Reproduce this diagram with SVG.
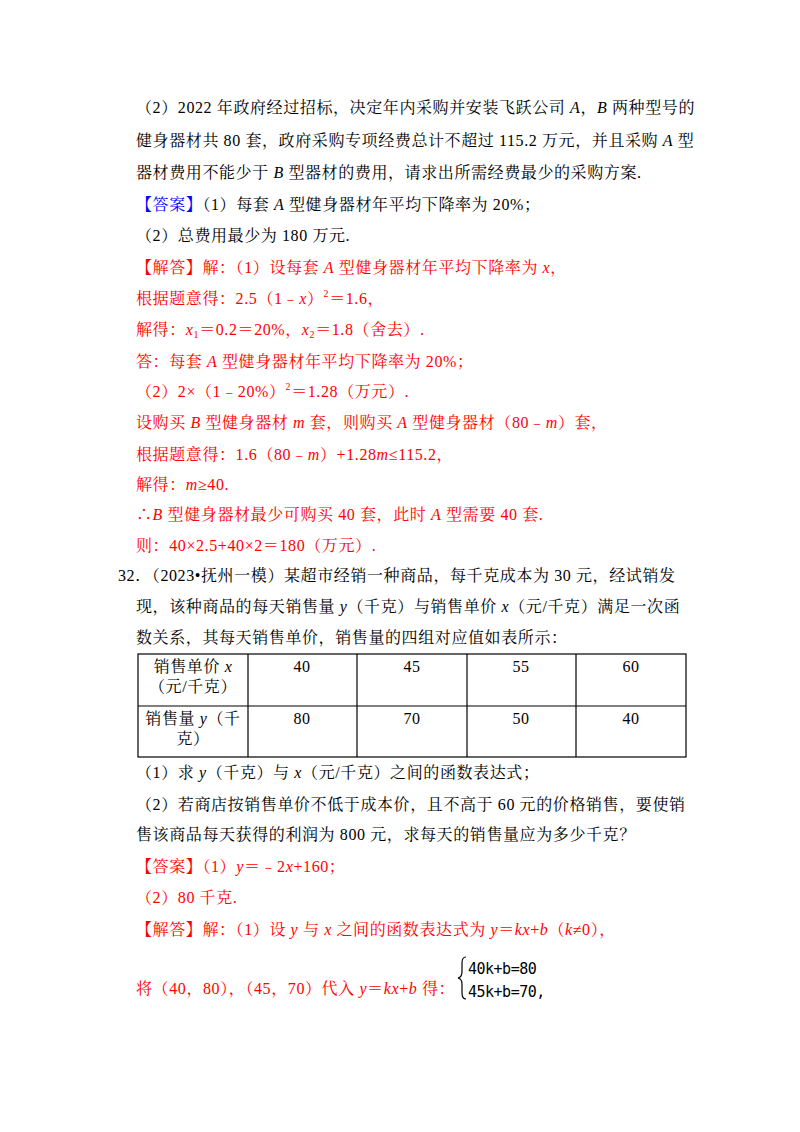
<svg xmlns="http://www.w3.org/2000/svg" width="800" height="1132" viewBox="0 0 800 1132">
<style>
text{font-family:"Liberation Serif","Noto Serif CJK SC","Noto Sans CJK SC",serif;font-size:16px;fill:#000;letter-spacing:0.6px}
.r{fill:#ff0000}.b{fill:#0000ff}.i{font-style:italic}
.s{font-size:10px}
.m{font-family:"DejaVu Sans Mono","Liberation Mono",monospace;font-size:15px;letter-spacing:-0.5px}
line{stroke:#000;stroke-width:1.2}
</style>
<rect width="800" height="1132" fill="#fff"/>
<g id="text1">
<text x="136" y="113">（2）2022 年政府经过招标，决定年内采购并安装飞跃公司 <tspan class="i">A</tspan>，<tspan class="i">B</tspan> 两种型号的</text>
<text x="136" y="146">健身器材共 80 套，政府采购专项经费总计不超过 115.2 万元，并且采购 <tspan class="i">A</tspan> 型</text>
<text x="136" y="178">器材费用不能少于 <tspan class="i">B</tspan> 型器材的费用，请求出所需经费最少的采购方案.</text>
<text x="136" y="210"><tspan class="b">【答案】</tspan>（1）每套 <tspan class="i">A</tspan> 型健身器材年平均下降率为 20%；</text>
<text x="136" y="241">（2）总费用最少为 180 万元.</text>
<text x="136" y="273" class="r">【解答】解：（1）设每套 <tspan class="i">A</tspan> 型健身器材年平均下降率为 <tspan class="i">x</tspan>，</text>
<text x="136" y="304" class="r">根据题意得：2.5（1﹣<tspan class="i">x</tspan>）<tspan class="s" dy="-7">2</tspan><tspan dy="7">＝1.6，</tspan></text>
<text x="136" y="335" class="r">解得：<tspan class="i">x</tspan><tspan class="s" dy="3">1</tspan><tspan dy="-3">＝0.2＝20%，</tspan><tspan class="i">x</tspan><tspan class="s" dy="3">2</tspan><tspan dy="-3">＝1.8（舍去）.</tspan></text>
<text x="136" y="367" class="r">答：每套 <tspan class="i">A</tspan> 型健身器材年平均下降率为 20%；</text>
<text x="136" y="397" class="r">（2）2×（1﹣20%）<tspan class="s" dy="-7">2</tspan><tspan dy="7">＝1.28（万元）.</tspan></text>
<text x="136" y="428" class="r">设购买 <tspan class="i">B</tspan> 型健身器材 <tspan class="i">m</tspan> 套，则购买 <tspan class="i">A</tspan> 型健身器材（80﹣<tspan class="i">m</tspan>）套，</text>
<text x="136" y="460" class="r">根据题意得：1.6（80﹣<tspan class="i">m</tspan>）+1.28<tspan class="i">m</tspan>≤115.2，</text>
<text x="136" y="490" class="r">解得：<tspan class="i">m</tspan>≥40.</text>
<text x="136" y="520" class="r">∴<tspan class="i">B</tspan> 型健身器材最少可购买 40 套，此时 <tspan class="i">A</tspan> 型需要 40 套.</text>
<text x="136" y="551" class="r">则：40×2.5+40×2＝180（万元）.</text>
<text x="118" y="581">32．（2023•抚州一模）某超市经销一种商品，每千克成本为 30 元，经试销发</text>
<text x="136" y="612">现，该种商品的每天销售量 <tspan class="i">y</tspan>（千克）与销售单价 <tspan class="i">x</tspan>（元/千克）满足一次函</text>
<text x="136" y="643">数关系，其每天销售单价，销售量的四组对应值如表所示：</text>
</g>
<g id="table">
<rect x="138" y="654" width="548" height="103" fill="none" stroke="#000" stroke-width="1.2"/>
<line x1="138" y1="706" x2="686" y2="706"/>
<line x1="248" y1="654" x2="248" y2="757"/>
<line x1="357" y1="654" x2="357" y2="757"/>
<line x1="467" y1="654" x2="467" y2="757"/>
<line x1="576" y1="654" x2="576" y2="757"/>
<text x="193" y="672" text-anchor="middle">销售单价 <tspan class="i">x</tspan></text>
<text x="193" y="692" text-anchor="middle">（元/千克）</text>
<text x="193" y="724" text-anchor="middle">销售量 <tspan class="i">y</tspan>（千</text>
<text x="193" y="744" text-anchor="middle">克）</text>
<text x="302" y="672" text-anchor="middle">40</text><text x="412" y="672" text-anchor="middle">45</text>
<text x="521" y="672" text-anchor="middle">55</text><text x="631" y="672" text-anchor="middle">60</text>
<text x="302" y="724" text-anchor="middle">80</text><text x="412" y="724" text-anchor="middle">70</text>
<text x="521" y="724" text-anchor="middle">50</text><text x="631" y="724" text-anchor="middle">40</text>
</g>
<g id="text2">
<text x="136" y="778">（1）求 <tspan class="i">y</tspan>（千克）与 <tspan class="i">x</tspan>（元/千克）之间的函数表达式；</text>
<text x="136" y="810">（2）若商店按销售单价不低于成本价，且不高于 60 元的价格销售，要使销</text>
<text x="136" y="840">售该商品每天获得的利润为 800 元，求每天的销售量应为多少千克？</text>
<text x="136" y="872" class="r">【答案】（1）<tspan class="i">y</tspan>＝﹣2<tspan class="i">x</tspan>+160；</text>
<text x="136" y="903" class="r">（2）80 千克.</text>
<text x="136" y="935" class="r">【解答】解：（1）设 <tspan class="i">y</tspan> 与 <tspan class="i">x</tspan> 之间的函数表达式为 <tspan class="i">y</tspan>＝<tspan class="i">kx</tspan>+<tspan class="i">b</tspan>（<tspan class="i">k</tspan>≠0），</text>
<text x="136" y="994" class="r">将（40，80），（45，70）代入 <tspan class="i">y</tspan>＝<tspan class="i">kx</tspan>+<tspan class="i">b</tspan> 得：</text>
<path d="M466 957 q-4 0 -4 6 v9 q0 5 -4 6 q4 1 4 6 v9 q0 6 4 6" fill="none" stroke="#000" stroke-width="1.2"/>
<text x="468" y="974" class="m">40k+b=80</text>
<text x="468" y="997" class="m">45k+b=70,</text>
</g>
</svg>
